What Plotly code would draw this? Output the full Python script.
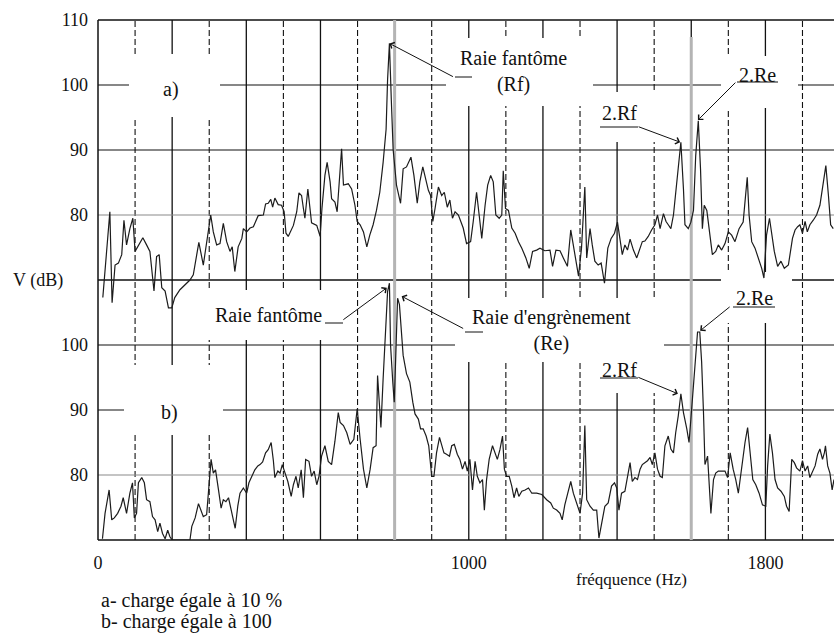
import plotly.graph_objects as go

# ---------------- data ----------------
# a) charge 10 %
freq_a = [13, 32, 38, 46, 55, 64, 70, 77, 86, 94,
          100, 109, 121, 131, 140, 151, 158, 165, 172, 181,
          190, 199, 207, 221, 235, 248, 257, 272, 284, 293,
          304, 311, 320, 329, 338, 347, 356, 362, 369, 378,
          388, 392, 401, 410, 419, 432, 446, 452, 459, 466,
          471, 477, 486, 495, 502, 507, 513, 527, 536, 542,
          549, 554, 558, 566, 572, 576, 590, 599, 604, 612,
          618, 626, 630, 639, 645, 653, 657, 662, 675, 684,
          693, 699, 707, 716, 725, 733, 742, 751, 760, 769,
          777, 781, 786, 791, 796, 805, 816, 823, 832, 844, 852,
          861, 868, 876, 885, 891, 897, 903, 909, 918, 927,
          934, 942, 949, 956, 963, 972, 985, 994, 1005, 1012,
          1021, 1028, 1035, 1044, 1051, 1059, 1066, 1073, 1082, 1089,
          1093, 1099, 1107, 1116, 1125, 1134, 1143, 1154, 1163, 1172,
          1183, 1192, 1205, 1219, 1226, 1235, 1246, 1255, 1266, 1275,
          1282, 1289, 1296, 1304, 1313, 1318, 1327, 1333, 1340, 1349,
          1357, 1366, 1375, 1384, 1393, 1401, 1408, 1414, 1421, 1428,
          1435, 1444, 1453, 1462, 1468, 1475, 1484, 1493, 1502, 1509,
          1516, 1525, 1532, 1538, 1545, 1552, 1561, 1572, 1579, 1583,
          1592, 1599, 1606, 1612, 1619, 1625, 1630, 1635, 1642, 1648,
          1657, 1666, 1673, 1682, 1691, 1700, 1709, 1718, 1729, 1740,
          1751, 1756, 1763, 1772, 1781, 1790, 1796, 1803, 1811, 1817,
          1824, 1833, 1842, 1851, 1862, 1873, 1880, 1887, 1893, 1900,
          1907, 1913, 1920, 1929, 1938, 1947, 1956, 1963, 1970, 1976, 1983]
level_a = [67.3, 80.5, 66.5, 72.3, 72.6, 73.9, 79.2, 75.4, 77.9, 79.5,
           74.4, 75.4, 76.5, 75.4, 74.4, 68.3, 73.6, 73.9, 68.8, 68.3,
           65.7, 65.7, 67.3, 68.5, 69.3, 70.0, 70.8, 75.8, 72.3, 75.9,
           80.0, 77.4, 75.4, 75.6, 78.7, 75.9, 74.4, 75.1, 71.3, 75.1,
           76.4, 77.9, 77.4, 78.0, 78.2, 79.9, 80.0, 81.7, 81.8, 82.4,
           81.2, 82.6, 81.6, 81.5, 80.5, 77.2, 76.7, 78.4, 80.5, 83.4,
           83.0, 81.0, 79.5, 84.0, 81.0, 78.8, 78.4, 76.7, 81.0, 86.1,
           88.1, 85.1, 82.5, 82.0, 80.5, 86.1, 90.2, 84.6, 84.8, 84.0,
           81.5, 79.0, 78.5, 77.4, 75.1, 76.9, 78.5, 80.7, 83.5, 88.1,
           93.2, 100.8, 106.4, 97.8, 90.1, 84.6, 81.8, 87.1, 87.4, 88.9, 86.1,
           81.8, 85.1, 87.4, 85.1, 83.8, 83.0, 79.0, 81.0, 84.3, 83.0,
           83.5, 81.2, 82.3, 79.5, 80.5, 80.0, 78.0, 75.6, 75.9, 79.0,
           83.5, 80.0, 76.4, 81.5, 84.6, 86.1, 85.1, 80.0, 79.5, 80.0,
           86.8, 81.0, 80.7, 78.0, 77.2, 75.9, 74.9, 73.4, 71.8, 74.4,
           74.6, 74.9, 74.5, 74.6, 72.1, 74.6, 74.5, 73.4, 72.1, 77.7,
           75.4, 73.4, 70.6, 74.9, 84.3, 73.4, 77.9, 75.4, 72.9, 72.3,
           72.6, 69.5, 74.9, 76.4, 77.2, 78.9, 75.9, 73.9, 75.4, 74.6,
           76.3, 74.6, 73.4, 74.9, 75.9, 76.0, 76.7, 77.7, 78.5, 80.0,
           77.9, 80.2, 79.0, 78.5, 77.9, 80.0, 85.6, 91.2, 84.0, 78.5,
           77.9, 78.9, 80.7, 89.1, 94.5, 87.1, 77.9, 81.5, 80.7, 77.9,
           73.9, 74.4, 75.4, 74.6, 75.6, 77.4, 76.9, 75.9, 77.9, 78.9,
           85.8, 80.0, 75.9, 74.9, 73.4, 71.8, 70.3, 76.9, 79.5, 77.4,
           74.4, 72.1, 72.9, 71.8, 72.3, 76.4, 77.7, 78.2, 78.5, 77.2,
           79.0, 77.4, 78.5, 79.2, 80.0, 81.5, 84.6, 87.6, 83.0, 78.5, 77.9]

# b) charge 100 %
freq_b = [12, 19, 30, 37, 44, 53, 62, 68, 77, 86,
          93, 98, 104, 109, 118, 125, 131, 140, 147, 154,
          161, 167, 174, 181, 188, 194, 200, 225, 248, 253,
          262, 271, 278, 284, 293, 299, 305, 311, 317, 325,
          332, 338, 345, 352, 361, 370, 377, 383, 392, 401,
          407, 414, 423, 431, 437, 444, 452, 459, 467, 473,
          477, 485, 491, 497, 504, 512, 521, 527, 534, 540,
          548, 554, 560, 569, 576, 583, 590, 596, 603, 612,
          621, 630, 639, 648, 653, 662, 671, 680, 690, 699,
          707, 716, 725, 734, 742, 750, 754, 759, 763, 769,
          776, 781, 786, 789, 795, 799, 804, 808, 813, 817,
          823, 832, 841, 849, 855, 864, 870, 877, 885, 892,
          900, 906, 913, 921, 927, 933, 940, 948, 954, 961,
          969, 976, 983, 990, 996, 1003, 1010, 1017, 1023, 1030,
          1037, 1042, 1048, 1055, 1064, 1071, 1077, 1084, 1091, 1096,
          1102, 1109, 1116, 1122, 1129, 1135, 1143, 1152, 1161, 1170,
          1183, 1197, 1210, 1221, 1228, 1237, 1246, 1252, 1259, 1267,
          1275, 1282, 1291, 1300, 1307, 1313, 1318, 1327, 1336, 1345,
          1351, 1358, 1367, 1376, 1385, 1393, 1399, 1405, 1412, 1421,
          1429, 1435, 1441, 1448, 1455, 1462, 1468, 1475, 1482, 1489,
          1495, 1502, 1509, 1516, 1522, 1529, 1538, 1545, 1552, 1558,
          1565, 1572, 1579, 1588, 1594, 1599, 1606, 1612, 1617, 1623,
          1628, 1633, 1637, 1644, 1648, 1653, 1660, 1666, 1673, 1682,
          1691, 1698, 1705, 1713, 1720, 1727, 1736, 1745, 1752, 1758,
          1766, 1774, 1783, 1792, 1801, 1806, 1812, 1819, 1826, 1833,
          1842, 1851, 1857, 1864, 1871, 1878, 1884, 1893, 1900, 1907,
          1914, 1920, 1927, 1934, 1941, 1947, 1954, 1959, 1962, 1968,
          1974, 1980, 1985]
level_b = [70.2, 74.1, 77.7, 73.1, 73.4, 74.1, 75.2, 76.5, 74.1, 77.2,
           78.8, 73.4, 74.1, 78.8, 79.6, 78.8, 76.2, 75.9, 73.6, 73.1,
           71.3, 72.6, 71.0, 70.2, 71.5, 70.5, 70.0, 70.0, 70.0, 72.1,
           73.4, 75.6, 74.6, 73.6, 73.9, 78.0, 82.4, 80.3, 80.8, 77.7,
           74.9, 76.2, 75.9, 76.5, 74.1, 71.8, 75.2, 77.2, 78.0, 77.2,
           78.8, 79.8, 80.8, 81.4, 81.6, 82.0, 83.4, 83.9, 85.0, 82.2,
           79.6, 80.6, 80.3, 81.6, 80.3, 79.0, 76.7, 78.5, 79.8, 78.0,
           80.8, 76.5, 82.4, 82.1, 79.8, 80.6, 78.5, 79.8, 82.9, 84.5,
           82.1, 81.6, 85.2, 89.6, 88.1, 87.6, 86.5, 84.7, 85.5, 90.2,
           85.5, 80.9, 78.0, 80.9, 84.2, 84.5, 95.3, 90.2, 87.3, 94.8,
           102.6, 108.2, 109.5, 100.0, 94.3, 91.2, 100.0, 107.2, 106.2, 103.1,
           98.4, 95.6, 94.3, 91.2, 89.4, 88.6, 87.1, 87.1, 86.0, 84.5,
           79.8, 79.8, 83.4, 85.8, 84.5, 83.4, 83.2, 82.9, 84.5, 84.7,
           83.2, 82.4, 80.9, 82.1, 80.6, 82.4, 77.7, 82.1, 79.8, 78.8,
           79.3, 74.6, 79.3, 82.4, 84.5, 83.4, 82.4, 83.9, 86.0, 80.9,
           79.8, 79.8, 78.3, 76.5, 78.0, 76.7, 77.5, 77.7, 78.0, 77.2,
           77.2, 77.0, 76.2, 75.7, 74.9, 74.6, 74.1, 73.1, 75.4, 77.2,
           79.0, 77.2, 75.7, 74.1, 77.2, 87.6, 76.2, 75.2, 74.6, 74.6,
           70.3, 72.6, 75.2, 75.7, 78.3, 78.8, 78.0, 74.6, 77.2, 77.5,
           79.8, 81.9, 79.0, 79.6, 79.3, 80.9, 81.6, 81.9, 82.2, 82.7,
           81.6, 83.4, 80.9, 79.8, 79.6, 84.5, 86.0, 84.0, 83.4, 86.5,
           89.1, 92.5, 89.6, 87.1, 85.0, 88.6, 93.8, 98.9, 102.0, 102.0,
           97.4, 89.6, 81.6, 82.9, 79.3, 74.1, 79.3, 80.3, 80.6, 80.6,
           80.6, 79.6, 83.4, 80.9, 79.3, 77.2, 81.4, 85.0, 87.3, 83.4,
           79.3, 78.5, 77.2, 75.4, 75.2, 81.4, 86.3, 83.4, 79.3, 78.0,
           77.5, 76.7, 75.2, 74.4, 82.4, 81.9, 81.1, 80.6, 82.2, 80.6,
           81.4, 79.6, 80.6, 81.4, 83.2, 84.0, 82.4, 83.4, 84.5, 81.4,
           80.3, 77.7, 79.3]

x_tick_vals = [0, 1000, 1800]
ya_tick_vals = [80, 90, 100, 110]
yb_tick_vals = [80, 90, 100]
grid_freqs = list(range(100, 2000, 100))
grid_levels = [80, 90, 100]

assert len(freq_a) == len(level_a), (len(freq_a), len(level_a))
assert len(freq_b) == len(level_b), (len(freq_b), len(level_b))

# ---------------- geometry helpers (pixel -> paper) ----------------
W, H = 834, 633
L, T, PW, PH = 98, 20, 736, 520


def xp(px):
    return (px - L) / PW


def yp(py):
    return (T + PH - py) / PH


FONT = "Liberation Serif, 'Times New Roman', Times, serif"
INK = "#111111"
GRAY = "#b4b4b4"

fig = go.Figure()
fig.add_trace(go.Scatter(x=freq_a, y=level_a, mode="lines", xaxis="x", yaxis="y",
                         line=dict(color="#1c1c1c", width=1.2), hoverinfo="skip"))
fig.add_trace(go.Scatter(x=freq_b, y=level_b, mode="lines", xaxis="x", yaxis="y2",
                         line=dict(color="#1c1c1c", width=1.2), hoverinfo="skip"))

shapes = []
# vertical grid: solid every 200 Hz, dashed in between
for f in grid_freqs:
    if f == 800:
        continue
    solid = f % 200 == 0
    shapes.append(dict(type="line", layer="below", xref="x", yref="paper",
                       x0=f, x1=f, y0=0, y1=1,
                       line=dict(color=INK, width=1.3 if solid else 1.1,
                                 dash="solid" if solid else "6px,3px")))
# horizontal grid in each panel
for yref in ("y", "y2"):
    for v in grid_levels:
        shapes.append(dict(type="line", layer="below", xref="paper", yref=yref,
                           x0=0, x1=1, y0=v, y1=v,
                           line=dict(color="#8a8a8a" if v == 80 else INK, width=1.2)))
# frame
for y in (0, 0.5, 1):
    shapes.append(dict(type="line", layer="below", xref="paper", yref="paper",
                       x0=0, x1=1, y0=y, y1=y, line=dict(color=INK, width=1.5)))
shapes.append(dict(type="line", layer="below", xref="paper", yref="paper",
                   x0=0, x1=0, y0=0, y1=1, line=dict(color=INK, width=1.5)))
# grey marker lines for Re (800 Hz) and 2.Re (1600 Hz)
shapes.append(dict(type="line", layer="below", xref="x", yref="paper",
                   x0=800, x1=800, y0=0, y1=1, line=dict(color=GRAY, width=3)))
shapes.append(dict(type="line", layer="below", xref="x", yref="paper",
                   x0=1600, x1=1600, y0=0, y1=yp(37), line=dict(color=GRAY, width=3)))

# white boxes that open the grid behind the labels
masks = [(129, 220, 54, 117), (446, 593, 38, 106), (596, 662, 92, 142),
         (721, 798, 56, 108), (721, 792, 272, 323), (455, 664, 298, 362),
         (596, 664, 362, 393), (200, 345, 290, 340), (124, 223, 365, 435)]
for x0, x1, y0, y1 in masks:
    shapes.append(dict(type="rect", layer="below", xref="paper", yref="paper",
                       x0=xp(x0), x1=xp(x1), y0=yp(y1), y1=yp(y0),
                       fillcolor="white", line=dict(width=0)))

# underline strokes of the labels
underlines = [(455, 472, 77), (600, 638, 127), (737, 778, 82),
              (325, 343, 323), (465, 483, 332), (600, 638, 378), (733, 775, 307)]
for x0, x1, y in underlines:
    shapes.append(dict(type="line", layer="above", xref="paper", yref="paper",
                       x0=xp(x0), x1=xp(x1), y0=yp(y), y1=yp(y),
                       line=dict(color=INK, width=1)))

annotations = []
# arrows (tip in data units, tail offset in pixels)
arrows = [(786, 106.4, "y", 65, 34), (1570, 91.2, "y", -43, -16), (1618, 94.6, "y", 39, -39),
          (779, 108.8, "y2", -45, 33), (819, 107.5, "y2", 63, 33),
          (1564, 92.5, "y2", -41, -17), (1624, 102.2, "y2", 31, -25)]
for x, y, yref, ax, ay in arrows:
    annotations.append(dict(x=x, y=y, xref="x", yref=yref, ax=ax, ay=ay, text="",
                            showarrow=True, arrowhead=4, arrowsize=1.3, arrowwidth=1,
                            arrowcolor=INK, standoff=0, startstandoff=0))

labels = [("Raie fantôme<br>(Rf)", 513, 71, 20), ("2.Rf", 619, 113, 20), ("2.Re", 757, 75, 20),
          ("Raie fantôme", 268, 315, 20), ("Raie d'engrènement<br>(Re)", 551, 330, 20),
          ("2.Rf", 619, 370, 20), ("2.Re", 754, 298, 20),
          ("a)", 171, 90, 20), ("b)", 169, 412, 20),
          ("V (dB)", 38, 280, 18), ("fréqquence (Hz)", 631, 579, 17)]
for txt, x, y, size in labels:
    annotations.append(dict(x=xp(x), y=yp(y), xref="paper", yref="paper", text=txt,
                            showarrow=False, xanchor="center", yanchor="middle",
                            font=dict(family=FONT, size=size, color=INK)))
for txt, y in (("a- charge égale à 10 %", 600), ("b- charge égale à 100", 622)):
    annotations.append(dict(x=xp(99), y=yp(y), xref="paper", yref="paper", text=txt,
                            showarrow=False, xanchor="left", yanchor="middle",
                            font=dict(family=FONT, size=20, color=INK)))

tickfont = dict(family=FONT, size=18, color=INK)
fig.update_layout(
    width=W, height=H,
    font=dict(family=FONT, color=INK),
    margin=dict(l=L, r=W - L - PW, t=T, b=H - T - PH, autoexpand=False),
    paper_bgcolor="white", plot_bgcolor="rgba(0,0,0,0)",
    showlegend=False, hovermode=False,
    xaxis=dict(range=[0, 1985], anchor="y2", tickmode="array", tickvals=x_tick_vals,
               showgrid=False, zeroline=False, showline=False, ticks="", automargin=False,
               tickfont=tickfont, ticklabelstandoff=10),
    yaxis=dict(domain=[0.375, 1], range=[60, 110], anchor="x", tickmode="array",
               tickvals=ya_tick_vals, showgrid=False, zeroline=False, showline=False,
               ticks="", automargin=False, tickfont=tickfont, ticklabelstandoff=9),
    yaxis2=dict(domain=[0, 0.5], range=[70, 110], anchor="x", tickmode="array",
                tickvals=yb_tick_vals, showgrid=False, zeroline=False, showline=False,
                ticks="", automargin=False, tickfont=tickfont, ticklabelstandoff=9),
    shapes=shapes, annotations=annotations,
)

fig.write_html("out.html", config={"displayModeBar": False},
               post_script="document.body.style.margin='0';document.body.style.overflow='hidden';")
